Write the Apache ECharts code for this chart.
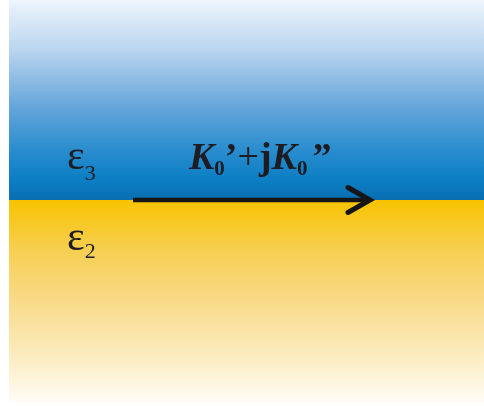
<!DOCTYPE html>
<html>
<head>
<meta charset="utf-8">
<script src="https://cdn.jsdelivr.net/npm/echarts@6/dist/echarts.min.js"></script>
<style>
  html, body { margin: 0; padding: 0; background: #ffffff; }
  #chart { width: 484px; height: 406px; }
</style>
</head>
<body>
<div id="chart"></div>
<script>
// Two media separated by a flat interface; the surface wave travels along it.
const media = ['ε3', 'ε2'];            // upper and lower medium
const mediumTop = [0, 200];            // depth where each medium starts
const mediumBottom = [200, 402];       // depth where each medium ends
const interfaceDepth = 200;            // depth of the boundary
const waveStart = 133;                 // arrow tail position along x
const waveEnd = 370;                   // arrow head position along x
const mediumSymbols = ['ε', 'ε'];
const mediumIndices = ['3', '2'];
const waveLabel = ['K', '0', '’', '+', 'j', 'K', '0', '”'];

// label baselines (x, y) in axis units
const labelAnchors = [[67, 172], [67, 253]];
const waveLabelAnchor = [189, 172];

const blueStops = [
  { offset: 0, color: '#eef5fd' },
  { offset: 0.25, color: '#b9d5ef' },
  { offset: 0.5, color: '#70aadc' },
  { offset: 0.75, color: '#2a8dce' },
  { offset: 0.9, color: '#0b7ec4' },
  { offset: 1, color: '#0a6eb1' }
];
const yellowStops = [
  { offset: 0, color: '#f7c300' },
  { offset: 0.25, color: '#f7cf52' },
  { offset: 0.5, color: '#f8da88' },
  { offset: 0.75, color: '#fbeabb' },
  { offset: 1, color: '#fffcf6' }
];

const serifFont = '"Liberation Serif", "Times New Roman", serif';
const ink = '#1c1c22';

// text measurement for laying out inline sub/superscript runs
const measureCtx = document.createElement('canvas').getContext('2d');
function runWidth(tok) {
  measureCtx.font = (tok.style || 'normal') + ' ' + (tok.weight || 'normal') + ' ' + tok.size + 'px ' + serifFont;
  return measureCtx.measureText(tok.text).width;
}
// builds text elements from tokens placed on a common baseline
function layoutRun(tokens, x, baseline) {
  const out = [];
  let cx = x;
  tokens.forEach(function (tok) {
    cx += tok.gap || 0;
    const size = tok.size;
    out.push({
      type: 'text',
      x: cx,
      y: baseline + (tok.dy || 0) - 0.3375 * size,
      style: {
        text: tok.text,
        fontFamily: serifFont,
        fontSize: size,
        fontStyle: tok.style || 'normal',
        fontWeight: tok.weight || 'normal',
        fill: ink,
        align: 'left',
        verticalAlign: 'middle'
      }
    });
    cx += runWidth(tok);
  });
  return out;
}

function waveTokens() {
  const t = waveLabel;
  return [
    { text: t[0], size: 38, style: 'italic', weight: 'bold' },
    { text: t[1], size: 21, weight: 'bold', dy: 5 },
    { text: t[2], size: 38, weight: 'bold' },
    { text: t[3], size: 38 },
    { text: t[4], size: 38, weight: 'bold' },
    { text: t[5], size: 38, style: 'italic', weight: 'bold' },
    { text: t[6], size: 21, weight: 'bold', dy: 5 },
    { text: t[7], size: 38, weight: 'bold', gap: 5 }
  ];
}

const chart = echarts.init(document.getElementById('chart'), null, { renderer: 'canvas' });

chart.setOption({
  backgroundColor: '#ffffff',
  animation: false,
  grid: { left: 9, right: 0, top: 0, height: 402 },
  xAxis: { type: 'value', min: 9, max: 484, show: false },
  yAxis: { type: 'value', min: 0, max: 402, inverse: true, show: false },
  series: [
    {
      // medium slabs
      type: 'custom',
      silent: true,
      data: media.map((name, i) => [9, mediumTop[i], 484, mediumBottom[i], i]),
      renderItem: function (params, api) {
        const p0 = api.coord([api.value(0), api.value(1)]);
        const p1 = api.coord([api.value(2), api.value(3)]);
        const idx = api.value(4);
        return {
          type: 'rect',
          shape: { x: p0[0], y: p0[1], width: p1[0] - p0[0], height: p1[1] - p0[1] },
          style: {
            fill: new echarts.graphic.LinearGradient(0, 0, 0, 1, idx === 0 ? blueStops : yellowStops)
          }
        };
      }
    },
    {
      // propagation arrow along the interface
      type: 'custom',
      silent: true,
      data: [[waveStart, interfaceDepth, waveEnd]],
      renderItem: function (params, api) {
        const a = api.coord([api.value(0), api.value(1)]);
        const b = api.coord([api.value(2), api.value(1)]);
        return {
          type: 'group',
          children: [
            {
              type: 'line',
              shape: { x1: a[0], y1: a[1], x2: b[0] - 3, y2: b[1] },
              style: { stroke: '#151515', lineWidth: 4.5 }
            },
            {
              type: 'polyline',
              shape: { points: [[b[0] - 22, b[1] - 12.5], [b[0], b[1]], [b[0] - 22, b[1] + 12.5]] },
              style: { stroke: '#151515', lineWidth: 5, fill: null, lineJoin: 'miter', lineCap: 'round' }
            }
          ]
        };
      }
    },
    {
      // labels: permittivities of both media and the propagation constant
      type: 'custom',
      silent: true,
      data: [
        [labelAnchors[0][0], labelAnchors[0][1], 0],
        [labelAnchors[1][0], labelAnchors[1][1], 1],
        [waveLabelAnchor[0], waveLabelAnchor[1], 2]
      ],
      renderItem: function (params, api) {
        const p = api.coord([api.value(0), api.value(1)]);
        const idx = api.value(2);
        let tokens;
        if (idx === 2) {
          tokens = waveTokens();
        } else {
          tokens = [
            { text: mediumSymbols[idx], size: 42 },
            { text: mediumIndices[idx], size: 22, dy: idx === 0 ? 10 : 7 }
          ];
        }
        return { type: 'group', children: layoutRun(tokens, p[0], p[1]) };
      }
    }
  ]
});
</script>
</body>
</html>
